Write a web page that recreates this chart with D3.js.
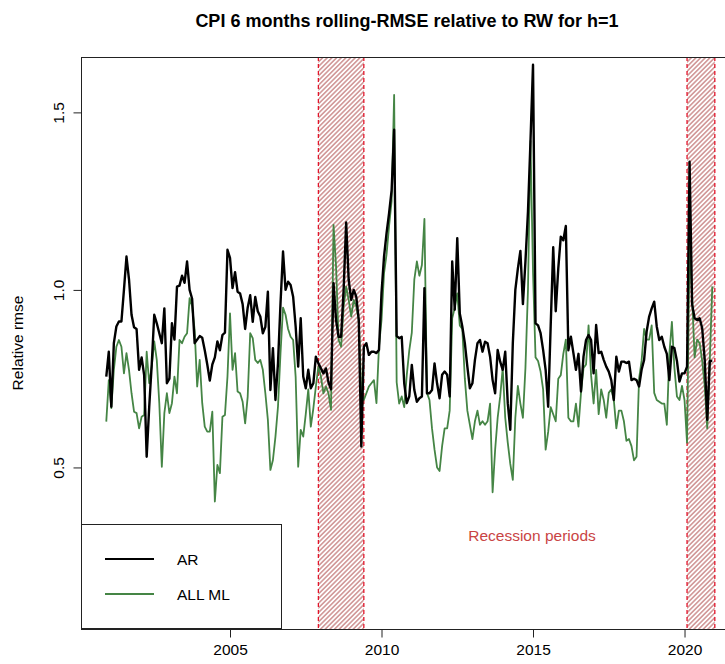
<!DOCTYPE html>
<html>
<head>
<meta charset="utf-8">
<script src="https://cdn.jsdelivr.net/npm/d3@7"></script>
<style>
  html, body { margin: 0; padding: 0; background: #fff; }
  svg { display: block; font-family: "Liberation Sans", Arial, Helvetica, sans-serif; }
</style>
</head>
<body>
<svg id="chart" width="725" height="664"></svg>
<script>
// Monthly rolling 6-month RMSE relative to the random walk, Dec 2000 .. Dec 2020
const firstMonth = 2000 + 11 / 12;

const arValues = [
  0.756, 0.826, 0.671, 0.85, 0.897, 0.911, 0.911, 1.00, 1.094, 1.03, 0.93, 0.895,
  0.89, 0.775, 0.81, 0.76, 0.53, 0.67, 0.79, 0.93, 0.906, 0.878, 0.85, 0.948,
  0.737, 0.75, 0.906, 0.86, 1.009, 1.012, 1.04, 1.02, 1.08, 1.0, 0.975, 0.85,
  0.86, 0.87, 0.865, 0.83, 0.79, 0.745, 0.79, 0.81, 0.855, 0.83, 0.873, 0.88,
  1.113, 1.09, 1.005, 1.05, 0.995, 0.99, 0.96, 0.89, 0.95, 0.985, 0.91, 0.98,
  0.94, 0.925, 0.878, 0.896, 0.995, 0.718, 0.836, 0.69, 0.793, 0.962, 1.108, 1.0,
  1.023, 1.014, 0.981, 0.897, 0.784, 0.92, 0.756, 0.723, 0.775, 0.723, 0.737, 0.812,
  0.793, 0.779, 0.765, 0.779, 0.74, 0.72, 1.019, 0.915, 0.868, 0.868, 1.0, 1.19,
  1.028, 0.972, 1.0, 0.981, 0.915, 0.559, 0.84, 0.85, 0.817, 0.826, 0.826, 0.822,
  0.831, 0.991, 1.094, 1.16, 1.216, 1.28, 1.451, 0.87, 0.864, 0.868, 0.737, 0.681,
  0.70, 0.789, 0.718, 0.685, 0.695, 0.70, 1.005, 0.709, 0.709, 0.718, 0.793, 0.737,
  0.695, 0.761, 0.77, 0.761, 0.70, 1.08, 0.944, 1.146, 0.934, 0.897, 0.85, 0.784,
  0.723, 0.737, 0.803, 0.85, 0.859, 0.826, 0.854, 0.85, 0.812, 0.746, 0.709, 0.831,
  0.798, 0.775, 0.826, 0.681, 0.606, 0.85, 1.00, 1.06, 1.11, 0.96, 1.08, 1.22,
  1.42, 1.634, 0.906, 0.90, 0.878, 0.831, 0.775, 0.671, 0.90, 1.12, 0.94, 1.06,
  1.15, 1.14, 1.18, 0.83, 0.868, 0.822, 0.775, 0.82, 0.714, 0.812, 0.859, 0.873,
  0.859, 0.765, 0.901, 0.822, 0.826, 0.803, 0.784, 0.77, 0.746, 0.69, 0.812, 0.77,
  0.798, 0.798, 0.794, 0.798, 0.746, 0.75, 0.746, 0.728, 0.775, 0.803, 0.883, 0.925,
  0.948, 0.967, 0.897, 0.859, 0.868, 0.84, 0.82, 0.746, 0.84, 0.836, 0.80, 0.742,
  0.765, 0.765, 0.784, 1.361, 0.96, 0.92, 0.915, 0.92, 0.892, 0.803, 0.634, 0.80,
  0.80
];

const mlValues = [
  0.629, 0.746, 0.667, 0.775, 0.84, 0.859, 0.84, 0.765, 0.822, 0.775, 0.709, 0.657,
  0.653, 0.61, 0.643, 0.648, 0.826, 0.737, 0.784, 0.855, 0.803, 0.681, 0.502, 0.653,
  0.709, 0.653, 0.681, 0.756, 0.709, 0.859, 0.85, 0.868, 0.878, 0.977, 0.953, 0.887,
  0.728, 0.803, 0.681, 0.615, 0.601, 0.601, 0.657, 0.404, 0.507, 0.484, 0.643, 0.648,
  0.756, 0.934, 0.775, 0.822, 0.714, 0.709, 0.685, 0.624, 0.699, 0.878, 0.864, 0.803,
  0.794, 0.803, 0.775, 0.709, 0.634, 0.493, 0.521, 0.587, 0.671, 0.822, 0.95, 0.93,
  0.89, 0.868, 0.859, 0.755, 0.502, 0.606, 0.587, 0.65, 0.72, 0.615, 0.666, 0.728,
  0.784, 0.756, 0.709, 0.728, 0.709, 0.662, 1.183, 1.066, 0.859, 0.84, 0.953, 1.009,
  0.972, 0.925, 0.972, 0.953, 0.915, 0.709, 0.69, 0.709, 0.728, 0.737, 0.746, 0.681,
  0.84, 0.915, 1.047, 1.10, 1.18, 1.25, 1.549, 0.74, 0.68, 0.70, 0.67, 0.76,
  0.83, 0.88, 1.03, 1.08, 1.04, 1.07, 1.20, 0.71, 0.69, 0.61, 0.55, 0.50,
  0.49, 0.56, 0.61, 0.61, 0.66, 0.92, 0.95, 0.99, 0.90, 0.89, 0.75, 0.66,
  0.62, 0.58, 0.63, 0.66, 0.62, 0.63, 0.62, 0.63, 0.68, 0.43, 0.55, 0.64,
  0.70, 0.78, 0.64, 0.57, 0.51, 0.465, 0.64, 0.73, 0.68, 0.64, 0.78, 1.00,
  1.42, 1.05, 0.81, 0.80, 0.77, 0.72, 0.55, 0.60, 0.67, 0.65, 0.63, 0.75,
  0.76, 0.82, 0.86, 0.64, 0.63, 0.63, 0.68, 0.615, 0.71, 0.78, 0.79, 0.90,
  0.76, 0.68, 0.775, 0.65, 0.72, 0.69, 0.64, 0.71, 0.72, 0.69, 0.61, 0.66,
  0.66, 0.63, 0.575, 0.58, 0.56, 0.52, 0.53, 0.75, 0.80, 0.89, 0.86, 0.86,
  0.90, 0.71, 0.69, 0.685, 0.68, 0.68, 0.62, 0.82, 0.91, 0.78, 0.70, 0.69,
  0.73, 0.69, 0.57, 1.13, 0.98, 0.81, 0.86, 0.85, 0.80, 0.73, 0.61, 0.80,
  1.01
];

// Recession periods (decimal years): Dec 2007 - Jun 2009, Feb 2020 - end of sample
const recessionStart = [2007 + 11 / 12, 2020 + 1 / 12];
const recessionEnd   = [2009 + 5 / 12, 2021.0];

const xTicks = [2005, 2010, 2015, 2020];
const yTicks = [0.5, 1.0, 1.5];
const seriesNames = ["AR", "ALL ML"];
const seriesColors = ["#000000", "#458545"];

const svg = d3.select("#chart");
const plot = { left: 81, right: 733, top: 57, bottom: 629 };

const x = d3.scaleLinear().domain([2000.0825, 2021.6]).range([plot.left, plot.right]);
const y = d3.scaleLinear().domain([0.045, 1.656]).range([plot.bottom, plot.top]);

const dates = arValues.map((_, i) => firstMonth + i / 12);
const arData = arValues.map((v, i) => [dates[i], v]);
const mlData = mlValues.map((v, i) => [dates[i], v]);

// Hatch pattern for shaded recession bands
const defs = svg.append("defs");
defs.append("pattern")
  .attr("id", "hatch")
  .attr("patternUnits", "userSpaceOnUse")
  .attr("width", 3.3).attr("height", 3.3)
  .attr("patternTransform", "rotate(45)")
  .append("line")
  .attr("x1", 1.65).attr("y1", 0).attr("x2", 1.65).attr("y2", 3.3)
  .attr("stroke", "#a83c3c").attr("stroke-width", 0.85);

defs.append("clipPath").attr("id", "plotClip")
  .append("rect")
  .attr("x", plot.left).attr("y", plot.top)
  .attr("width", plot.right - plot.left).attr("height", plot.bottom - plot.top);

// Title
svg.append("text")
  .attr("x", (plot.left + plot.right) / 2).attr("y", 27)
  .attr("text-anchor", "middle")
  .attr("font-size", 18).attr("font-weight", "bold")
  .text("CPI 6 months rolling-RMSE relative to RW for h=1");

const g = svg.append("g").attr("clip-path", "url(#plotClip)");

// Recession bands
const bands = recessionStart.map((s, i) => ({ s, e: recessionEnd[i] }));
g.selectAll("rect.band").data(bands).enter().append("rect")
  .attr("class", "band")
  .attr("x", d => x(d.s)).attr("y", plot.top)
  .attr("width", d => x(d.e) - x(d.s)).attr("height", plot.bottom - plot.top)
  .attr("fill", "url(#hatch)");
bands.forEach(d => {
  [d.s, d.e].forEach(t => {
    g.append("line")
      .attr("x1", x(t)).attr("x2", x(t))
      .attr("y1", plot.top).attr("y2", plot.bottom)
      .attr("stroke", "#e3152b").attr("stroke-width", 1.3)
      .attr("stroke-dasharray", "4,3");
  });
});

// Series lines
const line = d3.line().x(d => x(d[0])).y(d => y(d[1]));
g.append("path").datum(mlData)
  .attr("fill", "none").attr("stroke", seriesColors[1])
  .attr("stroke-width", 1.8).attr("stroke-linejoin", "round")
  .attr("d", line);
g.append("path").datum(arData)
  .attr("fill", "none").attr("stroke", seriesColors[0])
  .attr("stroke-width", 2.4).attr("stroke-linejoin", "round")
  .attr("d", line);

// Recession label
svg.append("text")
  .attr("x", 532).attr("y", 541)
  .attr("text-anchor", "middle")
  .attr("font-size", 15.5).attr("fill", "#c94444")
  .text("Recession periods");

// Plot frame
svg.append("rect")
  .attr("x", plot.left + 0.5).attr("y", plot.top + 0.5)
  .attr("width", plot.right - plot.left).attr("height", plot.bottom - plot.top)
  .attr("fill", "none").attr("stroke", "#222").attr("stroke-width", 1);

// X axis
const xAxis = svg.append("g")
  .attr("transform", `translate(0,${plot.bottom + 0.5})`)
  .call(d3.axisBottom(x).tickValues(xTicks).tickFormat(d3.format("d")).tickSize(8).tickPadding(6));
xAxis.select(".domain").remove();
xAxis.selectAll("text").attr("font-size", 15.5).attr("fill", "#000").attr("font-family", null);
xAxis.selectAll("line").attr("stroke", "#222");

// Y axis with rotated tick labels
const yAxis = svg.append("g")
  .attr("transform", `translate(${plot.left + 0.5},0)`)
  .call(d3.axisLeft(y).tickValues(yTicks).tickFormat(d3.format(".1f")).tickSize(8));
yAxis.select(".domain").remove();
yAxis.selectAll("line").attr("stroke", "#222");
yAxis.selectAll("text")
  .attr("x", null).attr("dy", null)
  .attr("transform", "translate(-18,0) rotate(-90)")
  .attr("text-anchor", "middle")
  .attr("font-size", 15.5).attr("fill", "#000").attr("font-family", null);

svg.append("text")
  .attr("transform", `translate(23,${(plot.top + plot.bottom) / 2}) rotate(-90)`)
  .attr("text-anchor", "middle")
  .attr("font-size", 15.5)
  .text("Relative rmse");

// Legend
const legend = svg.append("g");
legend.append("rect")
  .attr("x", 81.5).attr("y", 524.5).attr("width", 200).attr("height", 104)
  .attr("fill", "#fff").attr("stroke", "#222").attr("stroke-width", 1);
seriesNames.forEach((name, i) => {
  const ly = 559 + i * 35;
  legend.append("line")
    .attr("x1", 105).attr("x2", 154).attr("y1", ly).attr("y2", ly)
    .attr("stroke", seriesColors[i]).attr("stroke-width", 2);
  legend.append("text")
    .attr("x", 177).attr("y", ly + 5.5)
    .attr("font-size", 15.5)
    .text(name);
});
</script>
</body>
</html>
